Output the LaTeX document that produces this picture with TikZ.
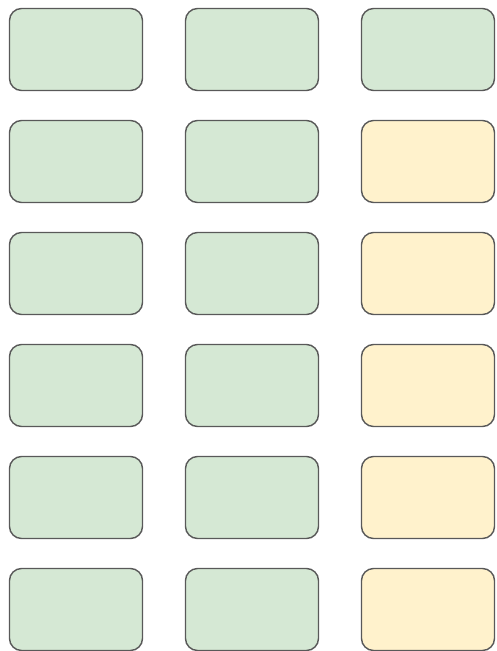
\documentclass[tikz,border=0pt]{standalone}
\usepackage{tikz}
\tikzset{
  tile/.style={
    draw=black!65,
    line width=1.4pt,
    rounded corners=12pt,
    minimum width=133pt,
    minimum height=82pt,
    inner sep=0pt
  },
  green tile/.style={tile, fill={rgb,255:red,213;green,232;blue,212}},
  yellow tile/.style={tile, fill={rgb,255:red,255;green,242;blue,204}}
}

\begin{document}
\begin{tikzpicture}[x=1pt, y=-1pt]
    % fester Rahmen
    \useasboundingbox (0,0) rectangle (496,651);

    % linke und mittlere Spalte
    \foreach \r in {1,...,6} {
      \node[green tile] (left\r) at (76, {49.5+112*(\r-1)}) {};
      \node[green tile] (mid\r) at (252, {49.5+112*(\r-1)}) {};
    }

    % rechte Spalte
    \node[green tile] (right1) at (428, 49.5) {};
    \foreach \r in {2,...,6} {
      \node[yellow tile] (right\r) at (428, {49.5+112*(\r-1)}) {};
    }

\end{tikzpicture}
\end{document}
